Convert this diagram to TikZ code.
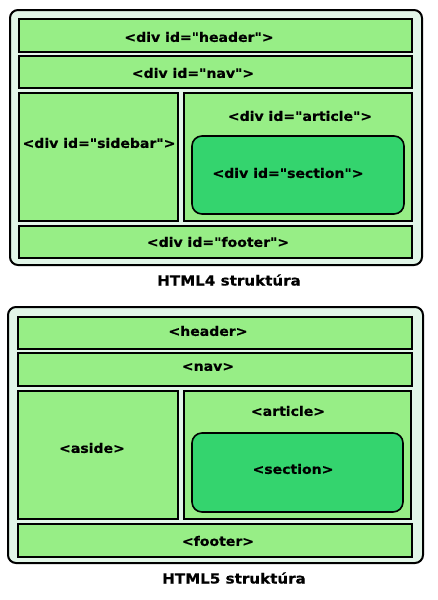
\documentclass[tikz,border=0pt]{standalone}
\usepackage{fontspec}
\newfontfamily\boxfont[FakeStretch=1.08,FakeBold=0.6]{DejaVu Sans Bold}
\definecolor{pagemint}{RGB}{226,246,232}
\definecolor{partgreen}{RGB}{151,238,134}
\definecolor{sectgreen}{RGB}{52,212,110}
\tikzset{
    frame/.style={draw=black, line width=2pt, fill=pagemint, rounded corners=8pt},
    part/.style={draw=black, line width=1.8pt, fill=partgreen},
    sect/.style={draw=black, line width=1.6pt, fill=sectgreen, rounded corners=10pt},
    tag/.style={font=\boxfont\fontsize{13}{15}\selectfont, inner sep=0pt},
    caption/.style={font=\boxfont\fontsize{14}{16}\selectfont, inner sep=0pt}
}
\begin{document}
\begin{tikzpicture}[x=1pt, y=-1pt]
\useasboundingbox (0,0) rectangle (437,600);
% HTML4
\draw[style={frame}] (10,10) rectangle (422,265);
\draw[style={part}] (19,19) rectangle (412,52);
\draw[style={part}] (19,56) rectangle (412,88);
\draw[style={part}] (19,93) rectangle (178,221);
\draw[style={part}] (184,93) rectangle (412,221);
\draw[style={sect}] (192,136) rectangle (404,214);
\draw[style={part}] (19,226) rectangle (412,258);
\node[tag] (h4header) at (199,37) {<div id="header">};
\node[tag] (h4nav) at (193,73) {<div id="nav">};
\node[tag] (h4sidebar) at (99,143) {<div id="sidebar">};
\node[tag] (h4article) at (300,116) {<div id="article">};
\node[tag] (h4section) at (288,173) {<div id="section">};
\node[tag] (h4footer) at (218,242) {<div id="footer">};
\node[caption] (h4title) at (229,280) {HTML4 struktúra};
% HTML5
\draw[style={frame}] (8,307) rectangle (423,563);
\draw[style={part}] (18,317) rectangle (412,349);
\draw[style={part}] (18,353) rectangle (412,386);
\draw[style={part}] (18,391) rectangle (178,519);
\draw[style={part}] (184,391) rectangle (411,519);
\draw[style={sect}] (192,433) rectangle (403,512);
\draw[style={part}] (18,524) rectangle (412,557);
\node[tag] (h5header) at (208,331) {<header>};
\node[tag] (h5nav) at (208,367) {<nav>};
\node[tag] (h5aside) at (92,448) {<aside>};
\node[tag] (h5article) at (288,411) {<article>};
\node[tag] (h5section) at (293,469) {<section>};
\node[tag] (h5footer) at (218,541) {<footer>};
\node[caption] (h5title) at (234,578) {HTML5 struktúra};
\end{tikzpicture}
\end{document}
